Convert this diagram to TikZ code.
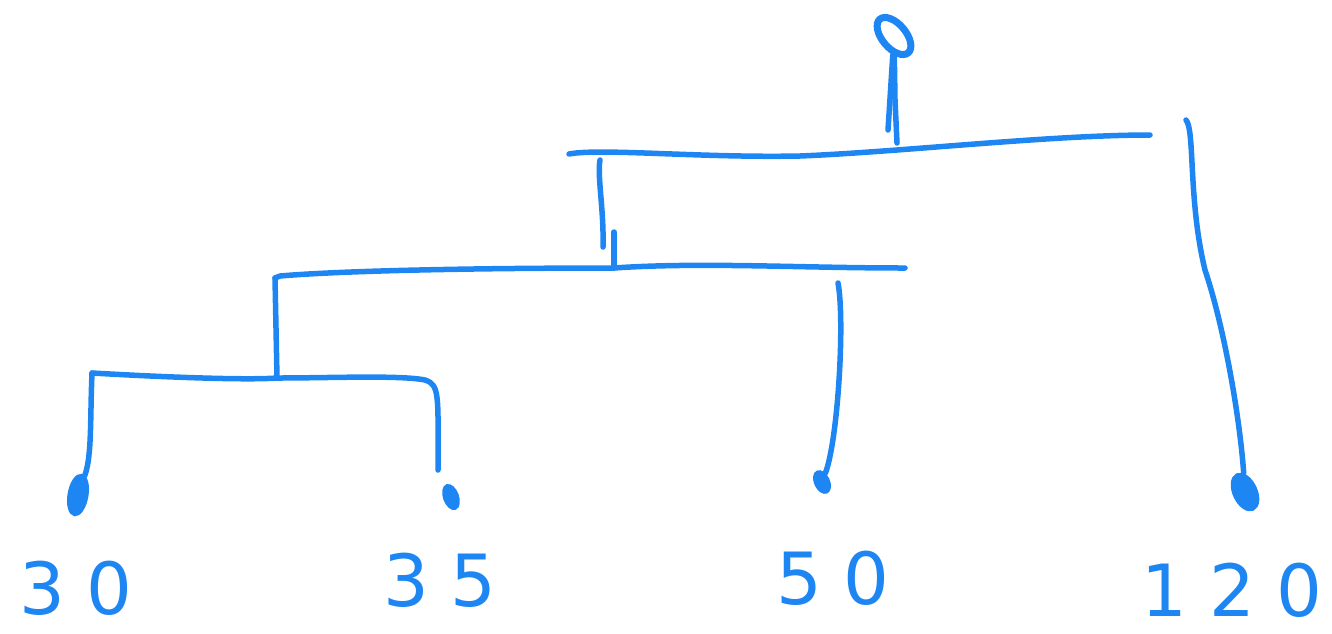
\documentclass[tikz,border=0pt]{standalone}
\usepackage{fontspec}
\setmainfont{DejaVu Sans}
\usetikzlibrary{shapes.geometric}
\definecolor{ink}{HTML}{1E86F2}
\begin{document}
\begin{tikzpicture}[x=1pt,y=-1pt,
  pen/.style={draw=ink,line width=5.5pt,line cap=round,line join=round},
  leaf/.style={ellipse,fill=ink,draw=ink,line width=3pt,inner sep=0pt},
  rootdot/.style={ellipse,draw=ink,line width=7pt,minimum width=24pt,minimum height=44pt,inner sep=0pt,rotate=40},
  lbl/.style={text=ink,inner sep=0pt,font=\fontsize{72}{72}\selectfont\addfontfeatures{LetterSpace=30}}]
\useasboundingbox (0,0) rectangle (1332,633);
% nodes
\node[rootdot] (root) at (894,36) {};
\node[leaf,minimum width=18pt,minimum height=40pt,rotate=-10] (l30) at (78,495) {};
\node[leaf,minimum width=13pt,minimum height=24pt,rotate=20] (l35) at (451,497) {};
\node[leaf,minimum width=13pt,minimum height=22pt,rotate=25] (l50) at (822,482) {};
\node[leaf,minimum width=22pt,minimum height=38pt,rotate=25] (l120) at (1245,492) {};
\node[lbl] (t30) at (76,588) {30};
\node[lbl] (t35) at (440,580) {35};
\node[lbl] (t50) at (833,578) {50};
\node[lbl] (t120) at (1232,590) {120};
% junction coordinates
\coordinate (top1) at (897,143);
\coordinate (topL) at (569,154);
\coordinate (topR) at (1150,135);
\coordinate (r120) at (1186,120);
\coordinate (v1a) at (600,160);
\coordinate (v1b) at (603,247);
\coordinate (v2a) at (614,232);
\coordinate (v2b) at (614,268);
\coordinate (midL) at (275,278);
\coordinate (midR) at (905,268);
\coordinate (m50) at (838,283);
\coordinate (m3035) at (277,378);
\coordinate (lowL) at (92,373);
% stem
\draw[pen] (root) -- (895,100) -- (top1);
\draw[pen] (root) -- (888,130);
% top bar
\draw[pen] (topL) .. controls (600,148) and (700,158) .. (800,156) .. controls (900,152) and (1050,135) .. (topR);
\draw[pen] (r120) .. controls (1195,130) and (1188,200) .. (1205,270) .. controls (1225,330) and (1240,420) .. (l120);
% left connector down to middle bar
\draw[pen] (v1a) .. controls (597,175) and (604,210) .. (v1b);
\draw[pen] (v2a) -- (v2b);
% middle bar
\draw[pen] (midR) .. controls (800,268) and (700,262) .. (v2b) .. controls (500,268) and (350,270) .. (280,276) -- (midL);
\draw[pen] (midL) -- (m3035);
\draw[pen] (m50) .. controls (845,320) and (838,440) .. (l50);
% lower bar
\draw[pen] (lowL) .. controls (180,378) and (250,380) .. (m3035) .. controls (330,378) and (400,375) .. (425,380) .. controls (440,385) and (438,395) .. (438,470);
\draw[pen] (lowL) .. controls (90,420) and (92,455) .. (l30);
\end{tikzpicture}
\end{document}
